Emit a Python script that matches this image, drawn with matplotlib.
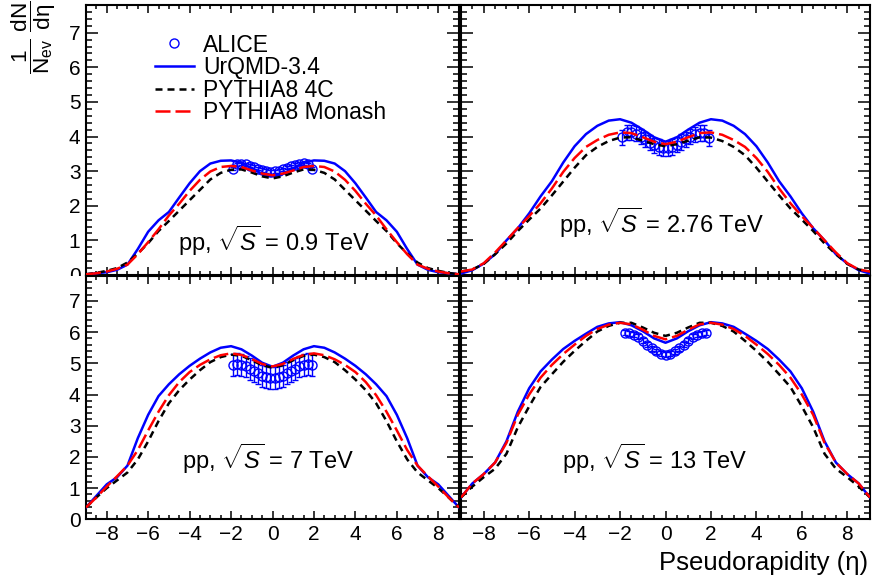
import numpy as np
import matplotlib
matplotlib.use("Agg")
import matplotlib.pyplot as plt
from matplotlib.lines import Line2D
from matplotlib.patches import Rectangle
from matplotlib.ticker import MultipleLocator

plt.rcParams["font.family"] = ["Liberation Sans", "DejaVu Sans"]
plt.rcParams["mathtext.fontset"] = "custom"
plt.rcParams["mathtext.rm"] = "Liberation Sans"
plt.rcParams["mathtext.it"] = "Liberation Sans:italic"
plt.rcParams["mathtext.bf"] = "Liberation Sans:bold"

# model curves, eta from -9 to 9 in steps of 0.5
eta = np.linspace(-9, 9, 37)

urqmd_09 = [0.02, 0.05, 0.08, 0.15, 0.30, 0.75, 1.25, 1.58, 1.82, 2.24, 2.65, 3.00, 3.22, 3.30, 3.31, 3.24, 3.08, 2.92, 2.85,
            2.92, 3.08, 3.24, 3.31, 3.30, 3.22, 3.00, 2.65, 2.24, 1.82, 1.58, 1.25, 0.75, 0.30, 0.15, 0.08, 0.05, 0.02]
c4_09 = [0.02, 0.06, 0.12, 0.20, 0.36, 0.62, 0.92, 1.27, 1.56, 1.86, 2.16, 2.46, 2.76, 2.95, 3.04, 3.05, 2.96, 2.85, 2.79,
         2.85, 2.96, 3.05, 3.04, 2.95, 2.76, 2.46, 2.16, 1.86, 1.56, 1.27, 0.92, 0.62, 0.36, 0.20, 0.12, 0.06, 0.02]
monash_09 = [0.02, 0.05, 0.10, 0.18, 0.30, 0.60, 0.95, 1.32, 1.72, 2.06, 2.43, 2.75, 2.99, 3.12, 3.15, 3.12, 3.02, 2.93, 2.88,
             2.93, 3.02, 3.12, 3.15, 3.12, 2.99, 2.75, 2.43, 2.06, 1.72, 1.32, 0.95, 0.60, 0.30, 0.18, 0.10, 0.05, 0.02]

urqmd_276 = [0.04, 0.14, 0.33, 0.60, 1.00, 1.35, 1.78, 2.27, 2.71, 3.25, 3.72, 4.07, 4.31, 4.46, 4.50, 4.40, 4.20, 3.98, 3.85,
             3.98, 4.20, 4.40, 4.50, 4.46, 4.31, 4.07, 3.72, 3.25, 2.71, 2.27, 1.78, 1.35, 1.00, 0.60, 0.33, 0.14, 0.04]
c4_276 = [0.10, 0.16, 0.32, 0.60, 0.91, 1.27, 1.60, 1.92, 2.30, 2.70, 3.10, 3.46, 3.70, 3.87, 3.97, 3.98, 3.88, 3.78, 3.72,
          3.78, 3.88, 3.98, 3.97, 3.87, 3.70, 3.46, 3.10, 2.70, 2.30, 1.92, 1.60, 1.27, 0.91, 0.60, 0.32, 0.16, 0.10]
monash_276 = [0.10, 0.16, 0.34, 0.65, 1.00, 1.36, 1.70, 2.07, 2.50, 2.98, 3.38, 3.70, 3.90, 4.05, 4.12, 4.10, 3.98, 3.85, 3.78,
              3.85, 3.98, 4.10, 4.12, 4.05, 3.90, 3.70, 3.38, 2.98, 2.50, 2.07, 1.70, 1.36, 1.00, 0.65, 0.34, 0.16, 0.10]

urqmd_7 = [0.38, 0.75, 1.12, 1.35, 1.72, 2.60, 3.35, 3.95, 4.33, 4.65, 4.92, 5.15, 5.35, 5.50, 5.55, 5.45, 5.25, 5.02, 4.89,
           5.02, 5.25, 5.45, 5.55, 5.50, 5.35, 5.15, 4.92, 4.65, 4.33, 3.95, 3.35, 2.60, 1.72, 1.35, 1.12, 0.75, 0.38]
c4_7 = [0.38, 0.70, 1.00, 1.25, 1.50, 1.92, 2.50, 3.15, 3.72, 4.14, 4.48, 4.78, 5.04, 5.20, 5.28, 5.24, 5.10, 4.94, 4.86,
        4.94, 5.10, 5.24, 5.28, 5.20, 5.04, 4.78, 4.48, 4.14, 3.72, 3.15, 2.50, 1.92, 1.50, 1.25, 1.00, 0.70, 0.38]
monash_7 = [0.38, 0.70, 1.05, 1.38, 1.72, 2.22, 2.85, 3.45, 3.98, 4.40, 4.72, 4.95, 5.13, 5.26, 5.32, 5.27, 5.14, 4.98, 4.90,
            4.98, 5.14, 5.27, 5.32, 5.26, 5.13, 4.95, 4.72, 4.40, 3.98, 3.45, 2.85, 2.22, 1.72, 1.38, 1.05, 0.70, 0.38]

urqmd_13 = [0.70, 1.15, 1.45, 1.82, 2.50, 3.45, 4.20, 4.74, 5.12, 5.46, 5.72, 5.95, 6.17, 6.28, 6.32, 6.22, 6.03, 5.80, 5.66,
            5.80, 6.03, 6.22, 6.32, 6.28, 6.17, 5.95, 5.72, 5.46, 5.12, 4.74, 4.20, 3.45, 2.50, 1.82, 1.45, 1.15, 0.70]
c4_13 = [0.70, 1.05, 1.35, 1.62, 2.10, 2.95, 3.62, 4.24, 4.65, 5.05, 5.40, 5.72, 6.02, 6.20, 6.30, 6.30, 6.15, 5.98, 5.88,
         5.98, 6.15, 6.30, 6.30, 6.20, 6.02, 5.72, 5.40, 5.05, 4.65, 4.24, 3.62, 2.95, 2.10, 1.62, 1.35, 1.05, 0.70]
monash_13 = [0.70, 1.15, 1.45, 1.82, 2.45, 3.35, 4.00, 4.54, 4.95, 5.30, 5.60, 5.88, 6.10, 6.24, 6.30, 6.25, 6.08, 5.88, 5.77,
             5.88, 6.08, 6.25, 6.30, 6.24, 6.10, 5.88, 5.60, 5.30, 4.95, 4.54, 4.00, 3.35, 2.45, 1.82, 1.45, 1.15, 0.70]

# ALICE measurements
alice_eta = [-1.9, -1.7, -1.5, -1.3, -1.1, -0.9, -0.7, -0.5, -0.3, -0.1,
             0.1, 0.3, 0.5, 0.7, 0.9, 1.1, 1.3, 1.5, 1.7, 1.9]
alice_09 = [3.07, 3.20, 3.22, 3.20, 3.16, 3.12, 3.07, 3.03, 3.00, 2.98,
            2.99, 3.01, 3.05, 3.10, 3.14, 3.18, 3.22, 3.24, 3.20, 3.07]
alice_276 = [3.98, 4.12, 4.12, 4.08, 4.00, 3.92, 3.82, 3.75, 3.70, 3.66,
             3.66, 3.70, 3.76, 3.84, 3.92, 4.00, 4.06, 4.10, 4.10, 3.96]
alice_7 = [4.96, 4.98, 4.95, 4.90, 4.82, 4.75, 4.68, 4.60, 4.55, 4.52,
           4.52, 4.55, 4.60, 4.68, 4.75, 4.82, 4.90, 4.95, 4.98, 4.96]
alice_eta_13 = [-1.8, -1.6, -1.4, -1.2, -1.0, -0.8, -0.6, -0.4, -0.2, 0.0,
                0.2, 0.4, 0.6, 0.8, 1.0, 1.2, 1.4, 1.6, 1.8]
alice_13 = [5.98, 5.97, 5.92, 5.85, 5.72, 5.60, 5.48, 5.38, 5.30, 5.28,
            5.30, 5.38, 5.48, 5.60, 5.72, 5.85, 5.92, 5.97, 5.98]
err_09, err_276, err_7, err_13 = 0.05, 0.22, 0.35, 0.08

energies = ["0.9", "2.76", "7", "13"]

W, H = 872, 583
fig = plt.figure(figsize=(W / 100, H / 100), dpi=100)


def box(l, t, r, b):
    return [l / W, 1 - b / H, (r - l) / W, (b - t) / H]


ax_tl = fig.add_axes(box(86, 5, 459, 275))
ax_tr = fig.add_axes(box(461, 5, 870, 275))
ax_bl = fig.add_axes(box(86, 276, 459, 519.3))
ax_br = fig.add_axes(box(461, 276, 870, 519.3))

panels = [
    (ax_tl, urqmd_09, c4_09, monash_09, alice_eta, alice_09, err_09, energies[0], (178, 250.5)),
    (ax_tr, urqmd_276, c4_276, monash_276, alice_eta, alice_276, err_276, energies[1], (559, 233)),
    (ax_bl, urqmd_7, c4_7, monash_7, alice_eta, alice_7, err_7, energies[2], (182, 469)),
    (ax_br, urqmd_13, c4_13, monash_13, alice_eta_13, alice_13, err_13, energies[3], (562, 469)),
]

lw = 1.8
for i, (ax, uq, c4, mon, ae, av, er, en, pos) in enumerate(panels):
    ax.errorbar(ae, av, yerr=er, fmt="o", ms=6.5, mfc="none", mec="blue", mew=1.0,
                ecolor="blue", elinewidth=1.0, capsize=2.5, zorder=2)
    ax.plot(eta, uq, color="blue", lw=lw, zorder=3)
    ax.plot(eta, c4, color="black", lw=lw, dashes=(2.8, 2.0), zorder=3)
    ax.plot(eta, mon, color="red", lw=lw, dashes=(6.0, 2.0), zorder=3)

    ax.set_xlim(-9, 9)
    ax.set_ylim(0, 7.8)
    ax.xaxis.set_major_locator(MultipleLocator(2))
    ax.xaxis.set_minor_locator(MultipleLocator(0.5))
    ax.yaxis.set_major_locator(MultipleLocator(1))
    ax.yaxis.set_minor_locator(MultipleLocator(0.2))
    ax.tick_params(which="both", direction="in", top=True, right=True, width=1.1,
                   labelsize=15, pad=4)
    ax.tick_params(axis="x", which="major", length=6)
    ax.tick_params(axis="x", which="minor", length=3)
    ax.tick_params(axis="y", which="major", length=8.5)
    ax.tick_params(axis="y", which="minor", length=4.3)
    for s in ax.spines.values():
        s.set_linewidth(1.5)
    if i % 2 == 1:
        ax.tick_params(labelleft=False)
    if i < 2:
        ax.tick_params(labelbottom=False)

    fig.text(pos[0] / W, 1 - pos[1] / H, "pp, $\\sqrt{S}$ = %s TeV" % en,
             fontsize=17, ha="left", va="baseline")

# the top-left "0" label is cut off by the pad below it
fig.add_artist(Rectangle((0, 1 - 291 / H), 84 / W, 15 / H, transform=fig.transFigure,
                         facecolor="white", edgecolor="none", zorder=5))

handles = [
    Line2D([], [], ls="none", marker="o", ms=6.5, mfc="none", mec="blue", mew=1.0),
    Line2D([], [], color="blue", lw=lw),
    Line2D([], [], color="black", lw=lw, dashes=(2.8, 2.0)),
    Line2D([], [], color="red", lw=lw, dashes=(6.0, 2.0)),
]
labels = ["ALICE", "UrQMD-3.4", "PYTHIA8 4C", "PYTHIA8 Monash"]
ax_tl.legend(handles, labels, loc="upper left", bbox_to_anchor=(155 / W, 1 - 33.5 / H),
             bbox_transform=fig.transFigure, frameon=False, fontsize=16.5,
             handlelength=1.7, handletextpad=0.4, labelspacing=-0.02,
             borderpad=0, borderaxespad=0)

fig.text(34 / W, 1 - 37.5 / H,
         r"$\dfrac{1}{\mathrm{N}_{\mathrm{ev}}}\ \dfrac{\mathrm{dN}}{\mathrm{d\eta}}$",
         rotation=90, fontsize=16.2, ha="center", va="center")
fig.text(868 / W, 1 - 570 / H, "Pseudorapidity (\u03b7)", fontsize=18.5,
         ha="right", va="baseline")

fig.savefig("out.png", dpi=100)
